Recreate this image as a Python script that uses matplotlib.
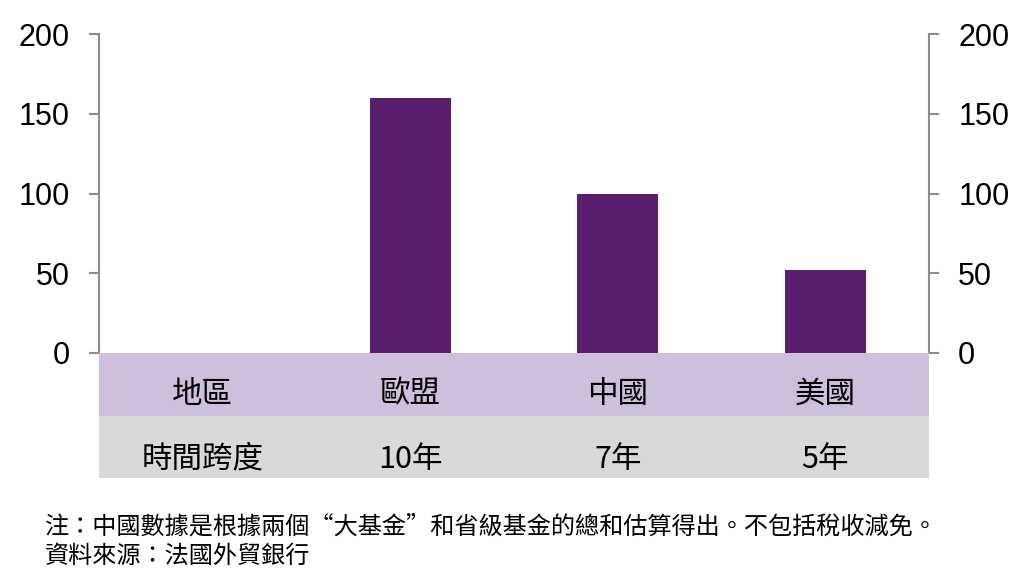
import matplotlib
matplotlib.use("Agg")
import matplotlib.pyplot as plt

plt.rcParams['font.family'] = ['Liberation Sans', 'Noto Sans CJK TC', 'DejaVu Sans']

headers = ['地區', '時間跨度']
regions = ['歐盟', '中國', '美國']
values = [160, 100, 52]
spans = ['10年', '7年', '5年']
yticks = [0, 50, 100, 150, 200]
note = '注：中國數據是根據兩個“大基金”和省級基金的總和估算得出。不包括稅收減免。'
source = '資料來源：法國外貿銀行'

bar_color = '#5A1E6E'
band1 = '#CEC0DC'
band2 = '#D9D9D9'
spine_color = '#8C8C8C'
cjk = ['Noto Sans CJK TC', 'DejaVu Sans']

W, H = 1024, 586
fig = plt.figure(figsize=(W / 100, H / 100), dpi=100)

# main bar chart
ax = fig.add_axes([99 / W, (H - 353) / H, (929 - 99) / W, (353 - 34) / H])
pos = list(range(1, len(regions) + 1))
ax.bar(pos, values, width=0.39, color=bar_color, zorder=3)
ax.set_xlim(-0.5, len(regions) + 0.5)
ax.set_ylim(0, 200)
ax.set_yticks(yticks)
ax.set_xticks([])
for s in ['top', 'bottom']:
    ax.spines[s].set_visible(False)
for s in ['left', 'right']:
    ax.spines[s].set_color(spine_color)
    ax.spines[s].set_linewidth(1.5)
ax.tick_params(axis='y', which='both', left=True, right=True,
               labelleft=True, labelright=True, direction='out',
               length=7, width=1.5, color=spine_color, labelsize=22,
               labelcolor='black', pad=14)

# table under the chart
tab = fig.add_axes([99 / W, (H - 478) / H, (929 - 99) / W, (478 - 353) / H])
tab.set_xlim(ax.get_xlim())
tab.set_ylim(0, 2)
tab.axhspan(1, 2, color=band1, lw=0)
tab.axhspan(0, 1, color=band2, lw=0)
tab.axis('off')
row1 = [headers[0]] + regions
row2 = [headers[1]] + spans
for i, (a, b) in enumerate(zip(row1, row2)):
    tab.text(i, 1.34, a, ha='center', va='center', fontsize=22, family=cjk,
             color='black', weight='medium')
    tab.text(i, 0.3, b, ha='center', va='center', fontsize=22, family=cjk,
             color='black', weight='medium')

fig.text(45 / W, 1 - 527 / H, note, ha='left', va='center', fontsize=17.4,
         family=cjk, color='black')
fig.text(45 / W, 1 - 556 / H, source, ha='left', va='center', fontsize=17.4,
         family=cjk, color='black')

fig.savefig('out.png', dpi=100)
plt.close(fig)
